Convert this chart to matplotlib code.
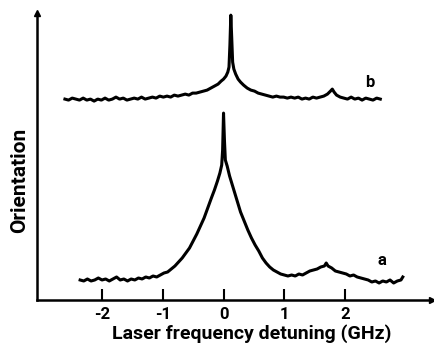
import matplotlib
matplotlib.use("Agg")
import matplotlib.pyplot as plt

# --- data (x in GHz, y in arbitrary orientation units) ---
a_x = [-2.36, -2.30, -2.24, -2.18, -2.12, -2.06, -2.00, -1.94, -1.88, -1.82,
       -1.76, -1.70, -1.64, -1.58, -1.52, -1.46, -1.40, -1.34, -1.28, -1.22,
       -1.16, -1.10, -1.04, -0.98, -0.92, -0.86, -0.80, -0.74, -0.68, -0.62,
       -0.56, -0.50, -0.44, -0.38, -0.32, -0.26, -0.20, -0.15, -0.10, -0.06,
       -0.03, -0.015, 0.0, 0.015, 0.03, 0.06, 0.10, 0.15, 0.22, 0.28,
       0.34, 0.40, 0.46, 0.52, 0.58, 0.64, 0.70, 0.76, 0.82, 0.88,
       0.94, 1.00, 1.06, 1.12, 1.18, 1.24, 1.30, 1.36, 1.42, 1.48,
       1.54, 1.60, 1.66, 1.69, 1.72, 1.78, 1.84, 1.90, 1.96, 2.02,
       2.08, 2.14, 2.20, 2.26, 2.32, 2.38, 2.44, 2.50, 2.56, 2.62,
       2.68, 2.74, 2.80, 2.86, 2.92, 2.95]
a_y = [20, 19, 21, 19, 20, 22, 20, 21, 19, 21,
       23, 20, 21, 19, 21, 20, 22, 21, 23, 22,
       24, 23, 25, 27, 28, 31, 34, 38, 42, 47,
       52, 59, 66, 74, 82, 92, 102, 110, 119, 127,
       135, 150, 187, 160, 140, 134, 124, 114, 100, 88,
       79, 70, 62, 55, 49, 42, 37, 33, 30, 28,
       26, 25, 24, 25, 24, 26, 25, 27, 29, 30,
       31, 33, 34, 37, 34, 32, 29, 28, 27, 26,
       24, 25, 23, 22, 21, 20, 18, 19, 17, 19,
       18, 20, 17, 19, 20, 23]

b_x = [-2.61, -2.55, -2.49, -2.43, -2.37, -2.31, -2.25, -2.19, -2.13, -2.07,
       -2.01, -1.95, -1.89, -1.83, -1.77, -1.71, -1.65, -1.59, -1.53, -1.47,
       -1.41, -1.35, -1.29, -1.23, -1.17, -1.11, -1.05, -0.99, -0.93, -0.87,
       -0.81, -0.75, -0.69, -0.63, -0.57, -0.51, -0.45, -0.39, -0.33, -0.27,
       -0.21, -0.15, -0.09, -0.04, 0.00, 0.04, 0.07, 0.09, 0.105, 0.12,
       0.135, 0.15, 0.17, 0.20, 0.24, 0.28, 0.33, 0.39, 0.45, 0.51,
       0.57, 0.63, 0.69, 0.75, 0.81, 0.87, 0.93, 0.99, 1.05, 1.11,
       1.17, 1.23, 1.29, 1.35, 1.41, 1.47, 1.53, 1.59, 1.65, 1.71,
       1.76, 1.79, 1.82, 1.86, 1.92, 1.98, 2.04, 2.10, 2.16, 2.22,
       2.28, 2.34, 2.40, 2.46, 2.52, 2.58]
b_y = [201, 200, 202, 201, 200, 202, 200, 201, 199, 201,
       200, 202, 200, 201, 203, 201, 202, 200, 201, 202,
       201, 203, 201, 202, 203, 202, 204, 203, 204, 203,
       205, 204, 205, 206, 205, 207, 207, 208, 209, 210,
       212, 214, 216, 219, 221, 224, 228, 233, 255, 285,
       262, 238, 231, 226, 221, 218, 215, 212, 210, 209,
       207, 206, 205, 204, 203, 204, 203, 203, 202, 203,
       202, 203, 201, 202, 201, 203, 202, 203, 204, 206,
       209, 211, 208, 205, 203, 202, 201, 203, 201, 202,
       200, 202, 201, 200, 202, 201]

xticks = [-2, -1, 0, 1, 2]
xtick_labels = ["-2", "-1", "0", "1", "2"]

# fonts: narrower bold look of the scanned figure
plt.rcParams['font.family'] = ['Roboto', 'DejaVu Sans']
plt.rcParams['font.weight'] = 'bold'

fig = plt.figure(figsize=(4.35, 3.46), dpi=100)
ax = fig.add_axes([0.085, 0.133, 0.908, 0.829])

ax.plot(a_x, a_y, color='black', lw=2.2, solid_joinstyle='round')
ax.plot(b_x, b_y, color='black', lw=2.2, solid_joinstyle='round')

ax.set_xlim(-3.07, 3.43)
ax.set_ylim(0, 287)

# axes with arrowheads
ax.spines['top'].set_visible(False)
ax.spines['right'].set_visible(False)
ax.spines['left'].set_linewidth(1.8)
ax.spines['bottom'].set_linewidth(1.8)
ax.plot(1, 0, '>k', ms=5, transform=ax.transAxes, clip_on=False)
ax.plot(0, 1, '^k', ms=5, transform=ax.transAxes, clip_on=False)

ax.set_xticks(xticks)
ax.set_xticklabels(xtick_labels, fontsize=12, fontweight='bold')
ax.set_yticks([])
ax.tick_params(axis='x', direction='in', length=8, width=1.5, pad=5)

ax.set_xlabel("Laser frequency detuning (GHz)", fontsize=14, fontweight='bold', va='center')
ax.xaxis.set_label_coords(0.545, -0.118)
ax.set_ylabel("Orientation", fontsize=15, fontweight='bold', va='center')
ax.yaxis.set_label_coords(-0.045, 0.418)

ax.text(2.41, 218, "b", fontsize=12, fontweight='bold', ha='center', va='center')
ax.text(2.60, 40, "a", fontsize=12, fontweight='bold', ha='center', va='center')

fig.savefig("out.png", dpi=100)
